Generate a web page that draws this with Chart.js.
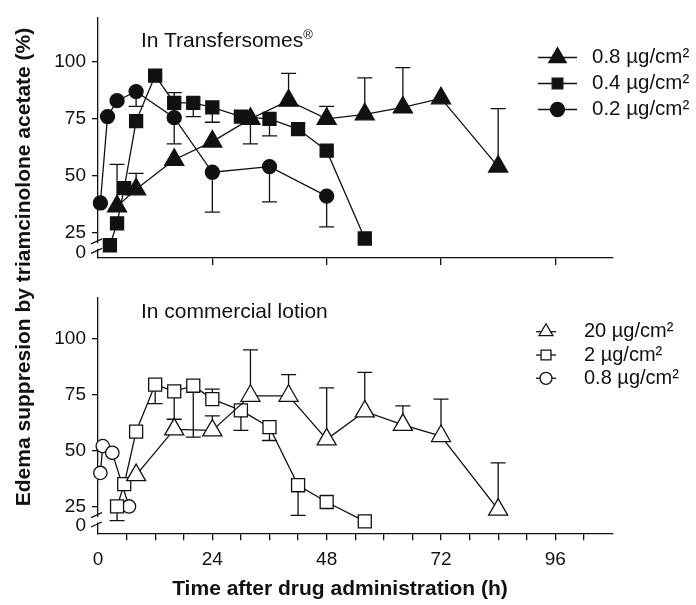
<!DOCTYPE html>
<html>
<head>
<meta charset="utf-8">
<script src="https://cdn.jsdelivr.net/npm/chart.js@4.4.0/dist/chart.umd.min.js"></script>
<style>
  body { margin: 0; background: #fff; }
  #wrap { position: relative; width: 696px; height: 605px; font-family: 'Liberation Sans', Arial, sans-serif; color: #111; }
  canvas { position: absolute; left: 0; }
  .lbl { position: absolute; font-size: 21px; line-height: 24px; white-space: nowrap; }
  .lbl sup { font-size: 13px; vertical-align: 8px; line-height: 0; }
  #ytitle { position: absolute; width: 600px; height: 24px; line-height: 24px; left: -277px; top: 255px;
            transform: rotate(-90deg); text-align: center; font-weight: bold; font-size: 21px; white-space: nowrap; }
  #xtitle { position: absolute; width: 600px; height: 24px; line-height: 24px; left: 40px; top: 576px;
            text-align: center; font-weight: bold; font-size: 21px; white-space: nowrap; }
</style>
</head>
<body>
<div id="wrap">
  <canvas id="topChart" width="696" height="280" style="top:0"></canvas>
  <canvas id="bottomChart" width="696" height="325" style="top:280px"></canvas>
  <div class="lbl" style="left:141px; top:28px">In Transfersomes<sup>®</sup></div>
  <div class="lbl" style="left:141px; top:299px">In commercial lotion</div>
  <div id="ytitle">Edema suppresion by triamcinolone acetate (%)</div>
  <div id="xtitle">Time after drug administration (h)</div>
</div>
<script>
// y ticks (axis is broken between 0 and 25)
const yTicks = [0, 25, 50, 75, 100];
const xLabelHours = [0, 24, 48, 72, 96];

// In Transfersomes
const hoursT08 = [4, 8, 16, 24, 32, 40, 48, 56, 64, 72, 84];
const edemaT08 = [36.5, 44, 57, 65, 75, 83, 75, 77, 80, 84, 54];
const tipsT08 = [55, 51, null, null, 64, 95, 80.5, 93, 97.5, null, 79.5];

const hoursT04 = [2.5, 4, 5.5, 8, 12, 16, 20, 24, 30, 36, 42, 48, 56];
const edemaT04 = [9, 29, 44.5, 74, 94, 82, 82, 80, 76, 75, 70.5, 61, 17.5];
const tipsT04 = [null, null, null, null, null, 86.5, 76, 73.5, null, 67.5, null, null, null];

const hoursT02 = [0.5, 2, 4, 8, 16, 24, 36, 48];
const edemaT02 = [38, 76, 83, 87, 75.5, 51.5, 54, 41];
const tipsT02 = [null, null, null, 80.5, 64, 34, 38.5, 27.5];

// In commercial lotion
const hoursL20 = [8, 16, 24, 32, 40, 48, 56, 64, 72, 84];
const edemaL20 = [39, 59.5, 59, 74.5, 74.5, 55, 67.5, 61.5, 56.5, 21];
const tipsL20 = [null, null, 65.5, 95, 84, 78, 85, 70, 73, 44.5];

const hoursL2 = [4, 5.5, 8, 12, 16, 20, 24, 30, 36, 42, 48, 56];
const edemaL2 = [25, 35, 58.5, 79.5, 76.5, 79, 73, 68, 60.5, 34.5, 27, 6];
const tipsL2 = [7, null, null, 71, 64, 56, 77.5, 59, 54.5, 13.5, null, null];

const hoursL08 = [0.5, 1, 3, 6.5];
const edemaL08 = [40, 52, 49, 25];
const tipsL08 = [null, null, null, null];

const INK = '#111';
Chart.defaults.font.family = "'Liberation Sans', Arial, sans-serif";
Chart.defaults.color = INK;

// values under 25 are squeezed into a short stretch below the break
const BREAK_AT = 25, SQUEEZE = 0.35;
const squash = v => v >= BREAK_AT ? v : BREAK_AT - (BREAK_AT - v) * SQUEEZE;
const unsquash = v => v >= BREAK_AT ? v : BREAK_AT - (BREAK_AT - v) / SQUEEZE;

class BrokenScale extends Chart.LinearScale {
  getPixelForValue(v) { return super.getPixelForValue(squash(v)); }
  getValueForPixel(p) { return unsquash(super.getValueForPixel(p)); }
}
BrokenScale.id = 'broken';
BrokenScale.defaults = Chart.LinearScale.defaults;
Chart.register(BrokenScale);

function series(label, hours, values, tips, style, radius, filled) {
  return {
    label,
    data: hours.map((h, i) => ({ x: h, y: values[i] })),
    tips,
    pointStyle: style,
    pointRadius: radius,
    pointHoverRadius: radius,
    pointBackgroundColor: filled ? INK : '#fff',
    pointBorderColor: INK,
    pointBorderWidth: 1.3,
    borderColor: INK,
    borderWidth: 1.3,
    tension: 0,
    fill: false,
    clip: false
  };
}

const errorBars = {
  id: 'errorBars',
  beforeDatasetsDraw(chart) {
    const ctx = chart.ctx, yScale = chart.scales.y;
    ctx.save();
    ctx.strokeStyle = INK;
    ctx.lineWidth = 1.3;
    chart.data.datasets.forEach((ds, i) => {
      const pts = chart.getDatasetMeta(i).data;
      (ds.tips || []).forEach((tip, j) => {
        if (tip == null) return;
        [].concat(tip).forEach(t => {
          const px = pts[j].x, ty = yScale.getPixelForValue(t);
          ctx.beginPath();
          ctx.moveTo(px, pts[j].y);
          ctx.lineTo(px, ty);
          ctx.moveTo(px - 7.5, ty);
          ctx.lineTo(px + 7.5, ty);
          ctx.stroke();
        });
      });
    });
    ctx.restore();
  }
};

const axisBreak = {
  id: 'axisBreak',
  afterDraw(chart) {
    const ctx = chart.ctx, yScale = chart.scales.y, x0 = chart.chartArea.left;
    const yA = yScale.getPixelForValue(14), yB = yScale.getPixelForValue(2);
    ctx.save();
    ctx.fillStyle = '#fff';
    ctx.fillRect(x0 - 2, yA + 2, 4, yB - yA - 4);
    ctx.strokeStyle = INK;
    ctx.lineWidth = 1.3;
    [yA, yB].forEach(yy => {
      ctx.beginPath();
      ctx.moveTo(x0 - 7, yy + 2.5);
      ctx.lineTo(x0 + 4, yy - 2.5);
      ctx.stroke();
    });
    ctx.restore();
  }
};

const markerLegend = {
  id: 'markerLegend',
  afterDraw(chart, args, opts) {
    const ctx = chart.ctx;
    chart.data.datasets.forEach((ds, i) => {
      const yy = opts.top + i * opts.step;
      const mx = (opts.lineFrom + opts.lineTo) / 2;
      ctx.save();
      ctx.strokeStyle = INK;
      ctx.lineWidth = 1.3;
      ctx.beginPath();
      ctx.moveTo(opts.lineFrom, yy);
      ctx.lineTo(opts.lineTo, yy);
      ctx.stroke();
      ctx.fillStyle = ds.pointBackgroundColor;
      Chart.helpers.drawPoint(ctx, { pointStyle: ds.pointStyle, radius: opts.radius[i], borderWidth: 1.3, rotation: 0 }, mx, yy);
      ctx.fillStyle = INK;
      ctx.font = opts.fontSize + "px 'Liberation Sans', Arial, sans-serif";
      ctx.textBaseline = 'middle';
      ctx.textAlign = 'left';
      ctx.fillText(ds.label, opts.textX, yy);
      ctx.restore();
    });
  }
};

function panelOptions(cfg) {
  return {
    responsive: false,
    animation: false,
    events: [],
    layout: { autoPadding: false, padding: cfg.padding },
    plugins: {
      legend: { display: false },
      tooltip: { enabled: false },
      markerLegend: cfg.legend
    },
    scales: {
      x: {
        type: 'linear', min: 0, max: 108, bounds: 'data',
        afterFit: s => { s.height = cfg.xHeight; },
        border: { color: INK, width: 1.3 },
        grid: {
          drawOnChartArea: false, tickLength: 7, lineWidth: 1.3,
          color: c => (c.tick && c.tick.value > 0 && c.tick.value < 108) ? INK : 'rgba(0,0,0,0)'
        },
        ticks: {
          stepSize: cfg.xStep, autoSkip: false, maxRotation: 0, minRotation: 0,
          display: cfg.xLabels, padding: 8, font: { size: 19 }, color: INK,
          callback: v => xLabelHours.includes(v) ? String(v) : ''
        }
      },
      y: {
        type: 'broken', min: cfg.yMin, max: cfg.yMax, bounds: 'data',
        afterFit: s => { s.width = 98; },
        afterBuildTicks: s => { s.ticks = yTicks.map(v => ({ value: v })); },
        border: { color: INK, width: 1.3 },
        grid: {
          drawOnChartArea: false, tickLength: 6, lineWidth: 1.3,
          color: c => (c.tick && c.tick.value === 0) ? 'rgba(0,0,0,0)' : INK
        },
        ticks: { padding: 6, font: { size: 19 }, color: INK, callback: v => String(v) }
      }
    }
  };
}

new Chart(document.getElementById('topChart'), {
  type: 'line',
  data: {
    datasets: [
      series('0.8 µg/cm²', hoursT08, edemaT08, tipsT08, 'triangle', 11, true),
      series('0.4 µg/cm²', hoursT04, edemaT04, tipsT04, 'rect', 9.2, true),
      series('0.2 µg/cm²', hoursT02, edemaT02, tipsT02, 'circle', 7, true)
    ]
  },
  options: panelOptions({
    padding: { left: 0, top: 15, right: 83.5, bottom: 14 },
    xHeight: 8, xStep: 24, xLabels: false, yMin: 13.8, yMax: 119.6,
    legend: { top: 57.5, step: 26, lineFrom: 538, lineTo: 577, textX: 592, fontSize: 20.5, radius: [10, 7.5, 7] }
  }),
  plugins: [errorBars, axisBreak, markerLegend]
});

new Chart(document.getElementById('bottomChart'), {
  type: 'line',
  data: {
    datasets: [
      series('20 µg/cm²', hoursL20, edemaL20, tipsL20, 'triangle', 11, false),
      series('2 µg/cm²', hoursL2, edemaL2, tipsL2, 'rect', 9.2, false),
      series('0.8 µg/cm²', hoursL08, edemaL08, tipsL08, 'circle', 6.7, false)
    ]
  },
  options: panelOptions({
    padding: { left: 0, top: 10, right: 83.5, bottom: 0 },
    xHeight: 71.7, xStep: 6, xLabels: true, yMin: 13.0, yMax: 118.5,
    legend: { top: 51.7, step: 23.3, lineFrom: 536, lineTo: 556, textX: 584, fontSize: 20, radius: [8, 7, 6] }
  }),
  plugins: [errorBars, axisBreak, markerLegend]
});
</script>
</body>
</html>
